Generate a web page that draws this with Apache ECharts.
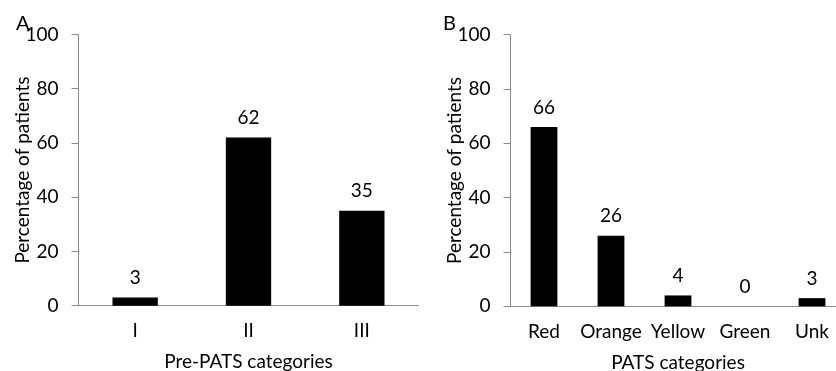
<!DOCTYPE html>
<html>
<head>
<meta charset="utf-8">
<script src="https://cdn.jsdelivr.net/npm/echarts@6/dist/echarts.min.js"></script>
<style>
  html, body { margin: 0; padding: 0; background: #fff; }
  #chart { width: 836px; height: 371px; }
</style>
</head>
<body>
<div id="chart"></div>
<script>
// Panel A: pre-PATS categories
const preCategories = ['I', 'II', 'III'];
const preValues = [3, 62, 35];

// Panel B: PATS categories
const patsCategories = ['Red', 'Orange', 'Yellow', 'Green', 'Unk'];
const patsValues = [66, 26, 4, 0, 3];

const yTicks = { min: 0, max: 100, interval: 20 };

const FONT = 'Lato, "Open Sans", sans-serif';
const FS = 19;
const AXIS_GRAY = '#8c8c8c';

function xAxisFor(gridIndex, cats, title) {
  return {
    type: 'category',
    gridIndex: gridIndex,
    data: cats,
    name: title,
    nameLocation: 'middle',
    nameGap: 47,
    nameMoveOverlap: false,
    nameTextStyle: { fontFamily: FONT, fontSize: FS, color: '#000' },
    axisLine: { lineStyle: { color: AXIS_GRAY, width: 1 } },
    axisTick: { length: 7, interval: 0, lineStyle: { color: AXIS_GRAY } },
    axisLabel: { interval: 0, fontFamily: FONT, fontSize: FS, color: '#000', margin: 16 }
  };
}

function yAxisFor(gridIndex) {
  return {
    type: 'value',
    gridIndex: gridIndex,
    min: yTicks.min,
    max: yTicks.max,
    interval: yTicks.interval,
    name: 'Percentage of patients',
    nameLocation: 'middle',
    nameGap: 46,
    nameMoveOverlap: false,
    nameTextStyle: { fontFamily: FONT, fontSize: FS, color: '#000' },
    axisLine: { show: true, lineStyle: { color: AXIS_GRAY, width: 1 } },
    axisTick: { show: true, length: 7, lineStyle: { color: AXIS_GRAY } },
    axisLabel: { fontFamily: FONT, fontSize: FS, color: '#000', margin: 20 },
    splitLine: { show: false }
  };
}

function barSeries(idx, values) {
  return {
    type: 'bar',
    xAxisIndex: idx,
    yAxisIndex: idx,
    data: values,
    barWidth: '40%',
    itemStyle: { color: '#000' },
    label: {
      show: true,
      position: 'top',
      distance: 10,
      fontFamily: FONT,
      fontSize: FS,
      color: '#000'
    }
  };
}

const chart = echarts.init(document.getElementById('chart'), null, { renderer: 'canvas' });
chart.setOption({
  animation: false,
  backgroundColor: '#fff',
  title: [
    { text: 'A', left: 11, top: 9, textStyle: { fontFamily: FONT, fontSize: 20, fontWeight: 'normal', color: '#000' } },
    { text: 'B', left: 438, top: 9, textStyle: { fontFamily: FONT, fontSize: 20, fontWeight: 'normal', color: '#000' } }
  ],
  grid: [
    { left: 78.5, top: 34.5, width: 340, height: 271.2, containLabel: false, outerBoundsMode: 'none' },
    { left: 510.5, top: 34.7, width: 335, height: 271.6, containLabel: false, outerBoundsMode: 'none' }
  ],
  xAxis: [
    xAxisFor(0, preCategories, 'Pre-PATS categories'),
    xAxisFor(1, patsCategories, 'PATS categories')
  ],
  yAxis: [yAxisFor(0), yAxisFor(1)],
  series: [barSeries(0, preValues), barSeries(1, patsValues)]
});
</script>
</body>
</html>
